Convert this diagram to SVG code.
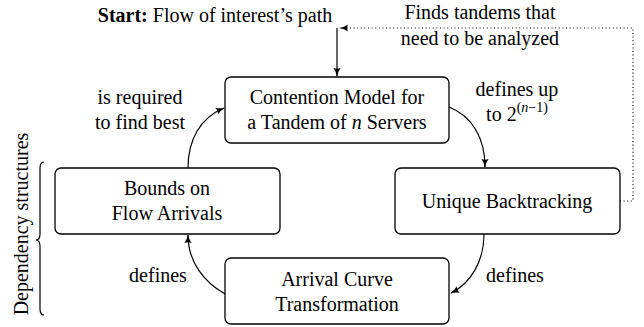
<svg xmlns="http://www.w3.org/2000/svg" width="644" height="327" viewBox="0 0 644 327">
<style>
.box{fill:#fff;stroke:#000;stroke-width:1.3}
.con{fill:none;stroke:#000;stroke-width:1.2}
.dot{fill:none;stroke:#000;stroke-width:1.2;stroke-dasharray:1 2.6}
</style>
<defs>
<marker id="ah" viewBox="0 0 10 10" refX="9" refY="5" markerWidth="9" markerHeight="9" markerUnits="userSpaceOnUse" orient="auto">
<path d="M0,1 Q4,4 10,5 Q4,6 0,9 Q2,5 0,1 Z" fill="#000"/>
</marker>
</defs>
<g id="connectors">
<path class="dot" d="M620,201 H633 V28 H340" marker-end="url(#ah)"/>
<path class="con" d="M337,28 V76" marker-end="url(#ah)"/>
<path class="con" d="M449,107 C472,116 485,138 485,167" marker-end="url(#ah)"/>
<path class="con" d="M484,234 C484,262 470,284 451,293" marker-end="url(#ah)"/>
<path class="con" d="M225,294 C204,282 188,262 188,235" marker-end="url(#ah)"/>
<path class="con" d="M188,168 C188,140 200,118 224,108" marker-end="url(#ah)"/>
</g>
<g font-family="Liberation Serif, Times New Roman, serif" font-size="20" text-anchor="middle" fill="#000">
<g id="start-label">
<text x="215" y="22"><tspan font-weight="bold">Start:</tspan> Flow of interest’s path</text>
</g>
<g id="finds-label">
<text x="480" y="19">Finds tandems that</text>
<text x="480" y="45">need to be analyzed</text>
</g>
<g id="contention-model">
<rect class="box" x="225" y="77" width="224" height="66" rx="6"/>
<text x="337" y="104">Contention Model for</text>
<text x="337" y="129">a Tandem of <tspan font-style="italic">n</tspan> Servers</text>
</g>
<g id="unique-backtracking">
<rect class="box" x="395" y="168" width="225" height="66" rx="6"/>
<text x="507" y="208">Unique Backtracking</text>
</g>
<g id="bounds">
<rect class="box" x="55" y="168" width="225" height="66" rx="6"/>
<text x="167" y="195">Bounds on</text>
<text x="167" y="220">Flow Arrivals</text>
</g>
<g id="arrival-curve">
<rect class="box" x="225" y="258" width="224" height="66" rx="6"/>
<text x="337" y="286">Arrival Curve</text>
<text x="337" y="311">Transformation</text>
</g>
<g id="edge-labels">
<text x="517" y="96">defines up</text>
<text x="517" y="121">to 2<tspan font-size="14" dy="-9">(</tspan><tspan font-size="14" font-style="italic">n</tspan><tspan font-size="14">−1)</tspan></text>
<text x="140" y="104">is required</text>
<text x="140" y="129">to find best</text>
<text x="158" y="282">defines</text>
<text x="515" y="282">defines</text>
</g>
<g id="brace">
<path class="con" d="M44,162 Q40,162 40,168 L40,234 Q40,240 36,240 Q40,240 40,246 L40,309 Q40,315 44,315"/>
<text transform="translate(28,224) rotate(-90)">Dependency structures</text>
</g>
</g>
</svg>
